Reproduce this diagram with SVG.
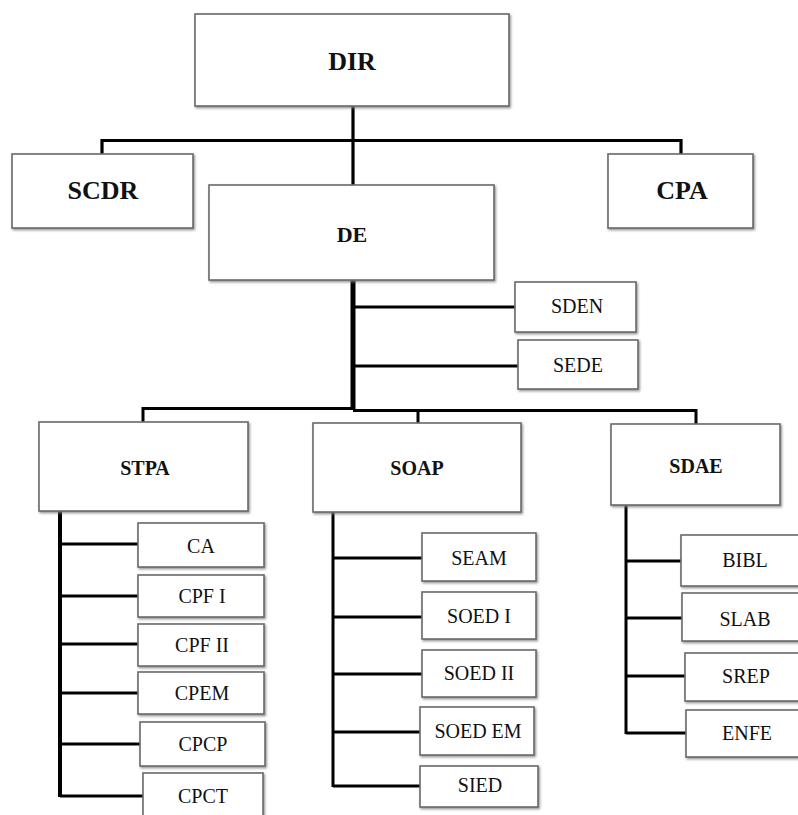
<svg xmlns="http://www.w3.org/2000/svg" width="798" height="815" viewBox="0 0 798 815">
<defs>
<filter id="sh" x="-5%" y="-5%" width="115%" height="120%">
<feDropShadow dx="1.2" dy="1.5" stdDeviation="0.8" flood-color="#7a7a7a" flood-opacity="0.8"/>
</filter>
</defs>
<style>
.box{fill:#fff;stroke:#6a6a6a;stroke-width:1.6;filter:url(#sh)}
.t{font-family:"Liberation Serif","Times New Roman",serif;fill:#111;text-anchor:middle}
.b1{font-weight:bold;font-size:26px}
.b2{font-weight:bold;font-size:22px}
.b3{font-weight:bold;font-size:20px}
.r{font-size:20px}
.c{stroke:#000;fill:none;stroke-linecap:butt}
</style>
<rect width="798" height="815" fill="#fff"/>
<g id="connectors">
<path class="c" stroke-width="3.2" d="M353 106V185M102 154V140.5H681V154"/>
<path class="c" stroke-width="5" d="M353 280V410"/>
<path class="c" stroke-width="3" d="M353 307H515M353 366H518"/>
<path class="c" stroke-width="3" d="M143 422V408.5H353M353 410.5H696V424M418 410.5V423"/>
<path class="c" stroke-width="4" d="M60 511V797"/>
<path class="c" stroke-width="3" d="M60 544H138M60 596H138M60 644H138M60 693H138M60 744H140M60 796H143"/>
<path class="c" stroke-width="3" d="M333 512V787M333 558H422M333 617H422M333 674H422M333 732H420M333 786H420"/>
<path class="c" stroke-width="3" d="M626 505V734M626 561H681M626 618H682M626 676H685M626 733H686"/>
</g>
<g id="DIR"><rect class="box" x="195" y="14" width="314" height="92"/><text class="t b1" x="352" y="70">DIR</text></g>
<g id="SCDR"><rect class="box" x="12" y="154" width="181" height="74"/><text class="t b1" x="103" y="199">SCDR</text></g>
<g id="CPA"><rect class="box" x="608" y="154" width="145" height="74"/><text class="t b1" x="682" y="199">CPA</text></g>
<g id="DE"><rect class="box" x="209" y="185" width="285" height="95"/><text class="t b2" x="352" y="242">DE</text></g>
<g id="SDEN"><rect class="box" x="515" y="282" width="121" height="50"/><text class="t r" x="577" y="313">SDEN</text></g>
<g id="SEDE"><rect class="box" x="518" y="340" width="120" height="49"/><text class="t r" x="578" y="372">SEDE</text></g>
<g id="STPA"><rect class="box" x="39" y="422" width="209" height="89"/><text class="t b3" x="145" y="475">STPA</text></g>
<g id="SOAP"><rect class="box" x="313" y="423" width="208" height="89"/><text class="t b3" x="417" y="475">SOAP</text></g>
<g id="SDAE"><rect class="box" x="611" y="424" width="169" height="81"/><text class="t b3" x="696" y="473">SDAE</text></g>
<g id="CA"><rect class="box" x="138" y="523" width="126" height="44"/><text class="t r" x="201" y="553">CA</text></g>
<g id="CPF_I"><rect class="box" x="138" y="575" width="126" height="42"/><text class="t r" x="202" y="603">CPF I</text></g>
<g id="CPF_II"><rect class="box" x="138" y="624" width="126" height="42"/><text class="t r" x="202" y="652">CPF II</text></g>
<g id="CPEM"><rect class="box" x="138" y="672" width="126" height="42"/><text class="t r" x="202" y="700">CPEM</text></g>
<g id="CPCP"><rect class="box" x="140" y="722" width="125" height="44"/><text class="t r" x="203" y="751">CPCP</text></g>
<g id="CPCT"><rect class="box" x="143" y="773" width="120" height="60"/><text class="t r" x="203" y="803">CPCT</text></g>
<g id="SEAM"><rect class="box" x="422" y="533" width="114" height="48"/><text class="t r" x="479" y="565">SEAM</text></g>
<g id="SOED_I"><rect class="box" x="422" y="592" width="114" height="47"/><text class="t r" x="479" y="623">SOED I</text></g>
<g id="SOED_II"><rect class="box" x="422" y="650" width="114" height="47"/><text class="t r" x="479" y="680">SOED II</text></g>
<g id="SOED_EM"><rect class="box" x="420" y="707" width="114" height="48"/><text class="t r" x="478" y="738">SOED EM</text></g>
<g id="SIED"><rect class="box" x="420" y="766" width="118" height="41"/><text class="t r" x="480" y="792">SIED</text></g>
<g id="BIBL"><rect class="box" x="681" y="535" width="130" height="51"/><text class="t r" x="745" y="567">BIBL</text></g>
<g id="SLAB"><rect class="box" x="682" y="593" width="130" height="48"/><text class="t r" x="745" y="626">SLAB</text></g>
<g id="SREP"><rect class="box" x="685" y="653" width="130" height="48"/><text class="t r" x="746" y="683">SREP</text></g>
<g id="ENFE"><rect class="box" x="686" y="710" width="130" height="47"/><text class="t r" x="747" y="740">ENFE</text></g>
</svg>
